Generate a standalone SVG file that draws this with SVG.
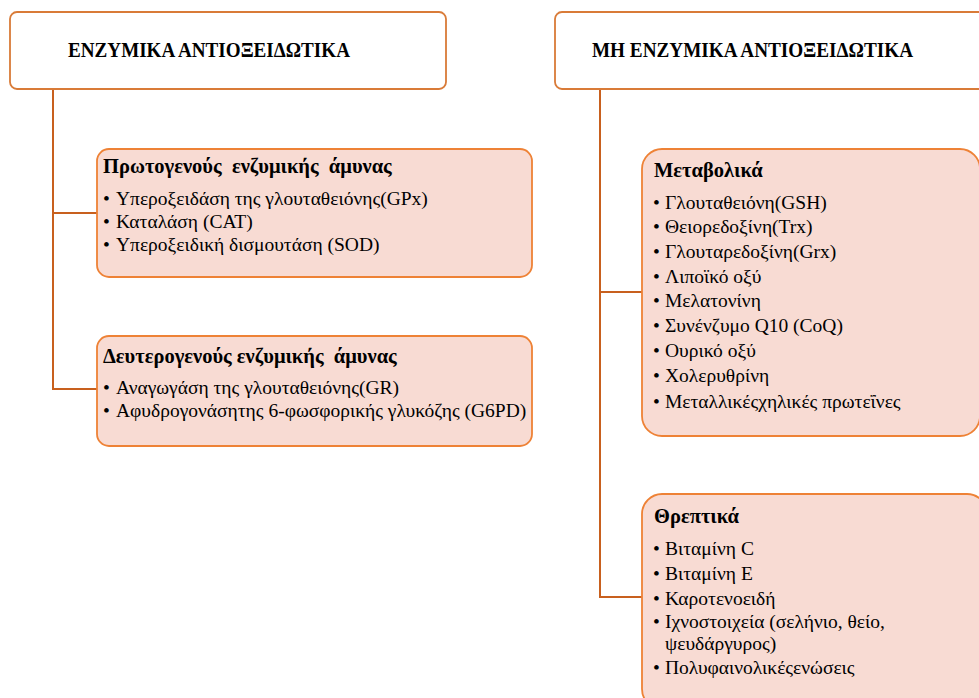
<svg xmlns="http://www.w3.org/2000/svg" width="979" height="698" viewBox="0 0 979 698">
<style>
.hdr{fill:#fff;stroke:#D97B38;stroke-width:1.8}
.sub{fill:#F8DBD3;stroke:#EE8236;stroke-width:1.8}
.conn{fill:none;stroke:#C8601E;stroke-width:2}
text{font-family:"Liberation Serif","DejaVu Serif",serif;fill:#000}
.ht{font-size:22px;font-weight:bold}
.st{font-size:20.5px;font-weight:bold}
.bt{font-size:19.5px}
</style>
<rect width="979" height="698" fill="#fff"/>
<g id="connectors">
<path class="conn" d="M53,89 V389 H97 M53,213 H97"/>
<path class="conn" d="M600,89 V597 H642 M600,292 H642"/>
</g>
<g id="enzymatic">
<rect class="hdr" x="10" y="12" width="436" height="77" rx="7"/>
<text class="ht" x="68" y="57" textLength="282" lengthAdjust="spacingAndGlyphs">ΕΝΖΥΜΙΚΑ ΑΝΤΙΟΞΕΙΔΩΤΙΚΑ</text>
</g>
<g id="nonenzymatic">
<rect class="hdr" x="555" y="12" width="440" height="77" rx="7"/>
<text class="ht" x="592" y="57" textLength="321" lengthAdjust="spacingAndGlyphs">ΜΗ ΕΝΖΥΜΙΚΑ ΑΝΤΙΟΞΕΙΔΩΤΙΚΑ</text>
</g>
<g id="primary">
<rect class="sub" x="97" y="149" width="435" height="128" rx="12"/>
<text class="st" x="103" y="173" xml:space="preserve">Πρωτογενούς  ενζυμικής  άμυνας</text>
<text class="bt" x="103" y="205">•<tspan x="116">Υπεροξειδάση της γλουταθειόνης(GPx)</tspan></text>
<text class="bt" x="103" y="228">•<tspan x="116">Καταλάση (CAT)</tspan></text>
<text class="bt" x="103" y="251">•<tspan x="116">Υπεροξειδική δισμουτάση (SOD)</tspan></text>
</g>
<g id="secondary">
<rect class="sub" x="97" y="336" width="435" height="110" rx="12"/>
<text class="st" x="103" y="363" xml:space="preserve">Δευτερογενούς ενζυμικής  άμυνας</text>
<text class="bt" x="103" y="394">•<tspan x="116">Αναγωγάση της γλουταθειόνης(GR)</tspan></text>
<text class="bt" x="103" y="417">•<tspan x="116">Αφυδρογονάσητης 6-φωσφορικής γλυκόζης (G6PD)</tspan></text>
</g>
<g id="metabolic">
<rect class="sub" x="642" y="149" width="338" height="287" rx="20"/>
<text class="st" x="654" y="177">Μεταβολικά</text>
<text class="bt" x="653" y="209">•<tspan x="665">Γλουταθειόνη(GSH)</tspan></text>
<text class="bt" x="653" y="233">•<tspan x="665">Θειορεδοξίνη(Trx)</tspan></text>
<text class="bt" x="653" y="258">•<tspan x="665">Γλουταρεδοξίνη(Grx)</tspan></text>
<text class="bt" x="653" y="283">•<tspan x="665">Λιποϊκό οξύ</tspan></text>
<text class="bt" x="653" y="307">•<tspan x="665">Μελατονίνη</tspan></text>
<text class="bt" x="653" y="332">•<tspan x="665">Συνένζυμο Q10 (CoQ)</tspan></text>
<text class="bt" x="653" y="357">•<tspan x="665">Ουρικό οξύ</tspan></text>
<text class="bt" x="653" y="382">•<tspan x="665">Χολερυθρίνη</tspan></text>
<text class="bt" x="653" y="408">•<tspan x="665">Μεταλλικέςχηλικές πρωτεΐνες</tspan></text>
</g>
<g id="nutritional">
<rect class="sub" x="642" y="494" width="345" height="215" rx="20"/>
<text class="st" x="654" y="523">Θρεπτικά</text>
<text class="bt" x="653" y="555">•<tspan x="665">Βιταμίνη C</tspan></text>
<text class="bt" x="653" y="580">•<tspan x="665">Βιταμίνη Ε</tspan></text>
<text class="bt" x="653" y="605">•<tspan x="665">Καροτενοειδή</tspan></text>
<text class="bt" x="653" y="628">•<tspan x="665">Ιχνοστοιχεία (σελήνιο, θείο,</tspan></text>
<text class="bt" x="665" y="650">ψευδάργυρος)</text>
<text class="bt" x="653" y="674">•<tspan x="665">Πολυφαινολικέςενώσεις</tspan></text>
</g>
</svg>
